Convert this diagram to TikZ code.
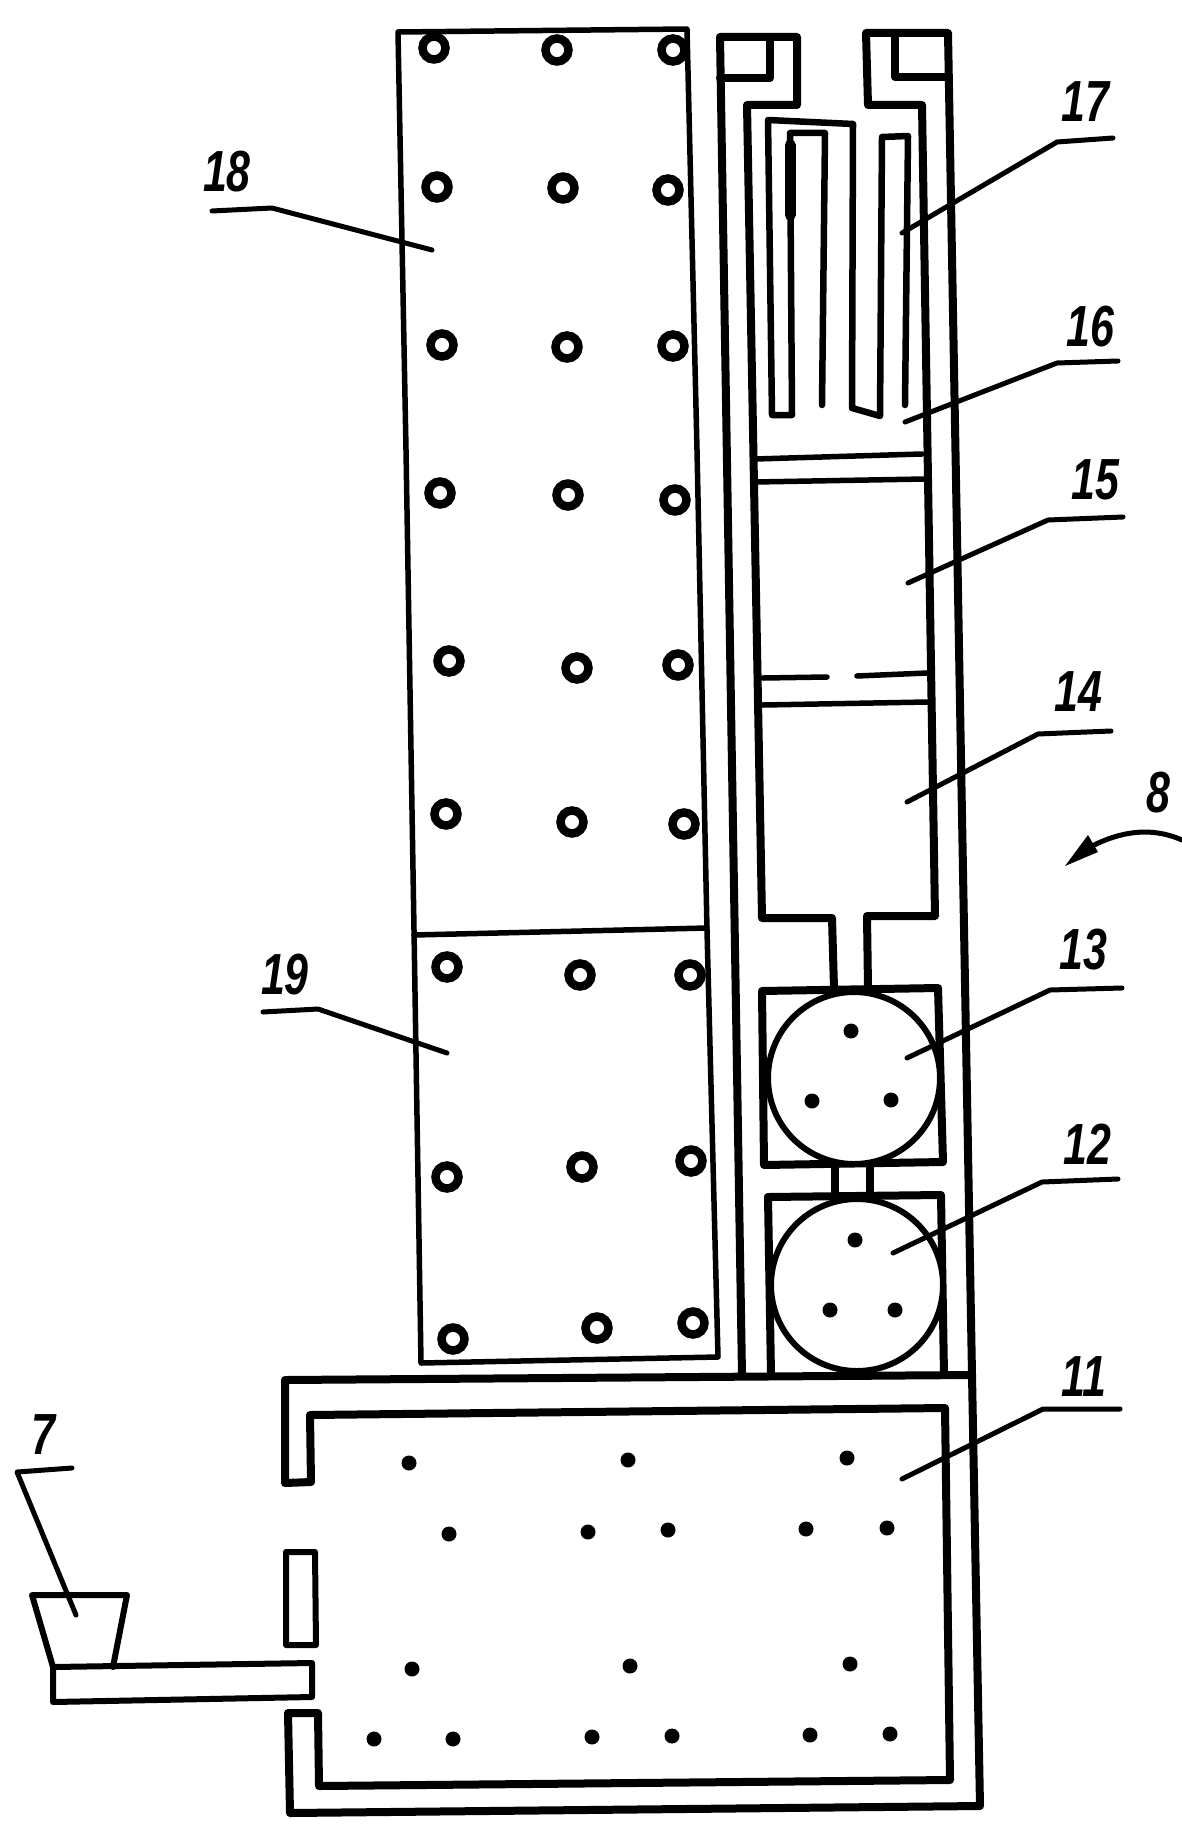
\documentclass[tikz,border=0pt]{standalone}
\usepackage{fontspec}
\newfontfamily\tagfont{Liberation Sans}[FakeStretch=0.74]

\tikzset{
	wall/.style={draw, line width=8pt, line join=round, line cap=round},
	panel/.style={draw, line width=5.5pt, line join=round, line cap=round},
	roller/.style={draw, line width=6pt},
	leader/.style={draw, line width=5pt, line join=round, line cap=round},
	tag/.style={inner sep=0pt, font=\tagfont\fontsize{58}{58}\selectfont\itshape\bfseries},
	hole/.style={circle, draw, line width=8.5pt, minimum size=23pt, inner sep=0pt},
	pin/.style={circle, fill, minimum size=15pt, inner sep=0pt}
}

\begin{document}
\begin{tikzpicture}[x=1pt, y=-1pt]
	\useasboundingbox (0, 0) rectangle (1182, 1833);

	% Perforated panel
	\draw[panel] (398, 32) -- (687, 29) -- (697, 450) -- (707, 930) -- (718, 1357) -- (421, 1363) -- (414, 930) -- (406, 450) -- cycle;
	\draw[panel] (414, 935) -- (707, 928);
	\foreach \i/\hx/\hy in {1/434/48, 2/557/50, 3/673/50, 4/437/187, 5/563/188, 6/668/190, 7/442/345, 8/567/347, 9/673/346, 10/440/493, 11/568/495, 12/675/500, 13/449/661, 14/577/668, 15/678/665, 16/446/814, 17/572/822, 18/684/824, 19/447/967, 20/580/975, 21/690/975, 22/447/1177, 23/582/1167, 24/691/1161, 25/453/1339, 26/597/1328, 27/693/1323}
		\node[hole] (h\i) at (\hx, \hy) {};

	% Outer shell of the column
	\draw[wall] (742, 1375) -- (720, 37) -- (797, 37) -- (797, 105) -- (747, 105) -- (762, 918) -- (832, 918) -- (834, 988);
	\draw[wall] (720, 78) -- (770, 78) -- (770, 37);
	\draw[wall] (972, 1375) -- (948, 33) -- (866, 33) -- (868, 105) -- (922, 105) -- (935, 916) -- (867, 916) -- (868, 988);
	\draw[wall] (948, 77) -- (895, 77) -- (895, 33);

	% Partitions
	\draw[panel] (755, 459) -- (922, 454);
	\draw[panel] (755, 482) -- (925, 479);
	\draw[panel] (763, 678) -- (827, 677);
	\draw[panel] (857, 676) -- (927, 673);
	\draw[panel] (763, 705) -- (928, 702);

	% Serpentine element
	\draw[panel, line width=6.5pt] (822, 405) -- (825, 133) -- (790, 133) -- (792, 415) -- (772, 415) -- (768, 120) -- (853, 124) -- (852, 408) -- (880, 416) -- (882, 137) -- (908, 136) -- (905, 405);
	\draw[panel, line width=11pt] (790, 145) -- (790, 215);

	% Rollers
	\draw[wall] (762, 991) -- (938, 988) -- (943, 1162) -- (764, 1165) -- cycle;
	\draw[wall] (768, 1197) -- (941, 1195) -- (944, 1375);
	\draw[wall] (768, 1197) -- (771, 1375);
	\draw[wall] (835, 1165) -- (835, 1197);
	\draw[wall] (870, 1165) -- (870, 1197);
	\node[circle, fill=white, roller, minimum size=172pt, inner sep=0pt] (r13) at (854, 1078) {};
	\node[circle, fill=white, roller, minimum size=172pt, inner sep=0pt] (r12) at (857, 1285) {};
	\foreach \i/\hx/\hy in {1/851/1031, 2/812/1101, 3/891/1100, 4/855/1240, 5/830/1310, 6/895/1310}
		\node[pin] (q\i) at (\hx, \hy) {};

	% Bottom chamber
	\draw[wall] (285, 1380) -- (972, 1375) -- (980, 1806) -- (290, 1813) -- (288, 1713) -- (318, 1713) -- (319, 1786) -- (950, 1780) -- (945, 1408) -- (310, 1415) -- (311, 1482) -- (285, 1483) -- cycle;
	\draw[panel, line width=6pt] (286, 1552) -- (315, 1552) -- (316, 1645) -- (286, 1645) -- cycle;
	\foreach \i/\hx/\hy in {1/409/1463, 2/628/1460, 3/847/1458, 4/449/1534, 5/588/1532, 6/668/1530, 7/806/1529, 8/887/1528, 9/412/1669, 10/630/1666, 11/850/1664, 12/374/1739, 13/453/1739, 14/592/1737, 15/672/1736, 16/810/1735, 17/890/1734}
		\node[pin] (p\i) at (\hx, \hy) {};

	% Hopper and feed tube
	\draw[panel, line width=6pt] (53, 1667) -- (312, 1663) -- (312, 1697) -- (53, 1702) -- cycle;
	\draw[panel, line width=6pt] (53, 1667) -- (32, 1595) -- (127, 1595) -- (113, 1667);

	% Reference numbers with their leaders
	\foreach \name/\lx/\ly/\ax/\ay/\bx/\by/\cx/\cy in {7/43/1435/72/1468/17/1472/76/1615, 11/1084/1377/1120/1409/1043/1409/902/1479, 12/1087/1144/1118/1179/1042/1182/893/1253, 13/1083/950/1122/988/1050/990/907/1058, 14/1078/692/1111/731/1038/734/907/802, 15/1095/480/1123/517/1048/520/908/583, 16/1090/327/1118/361/1057/363/905/422, 17/1085/102/1113/138/1057/142/902/233, 18/227/172/212/211/272/208/432/250, 19/285/975/263/1012/318/1009/447/1053} {
		\node[tag] (n\name) at (\lx, \ly) {\name};
		\coordinate (a\name) at (\ax, \ay);
		\coordinate (b\name) at (\bx, \by);
		\coordinate (c\name) at (\cx, \cy);
		\draw[leader] (a\name) -- (b\name) -- (c\name);
	}

	% Arrow for the whole column
	\node[tag] (n8) at (1158, 793) {8};
	\coordinate (arrowtail) at (1182, 840);
	\coordinate (arrowbase) at (1092, 846);
	\coordinate (arrowtip) at (1065, 866);
	\draw[leader] (arrowtail) .. controls (1150, 826) and (1120, 832) .. (arrowbase);
	\fill (arrowtip) -- (1088, 835) -- (1098, 852) -- cycle;
\end{tikzpicture}
\end{document}
